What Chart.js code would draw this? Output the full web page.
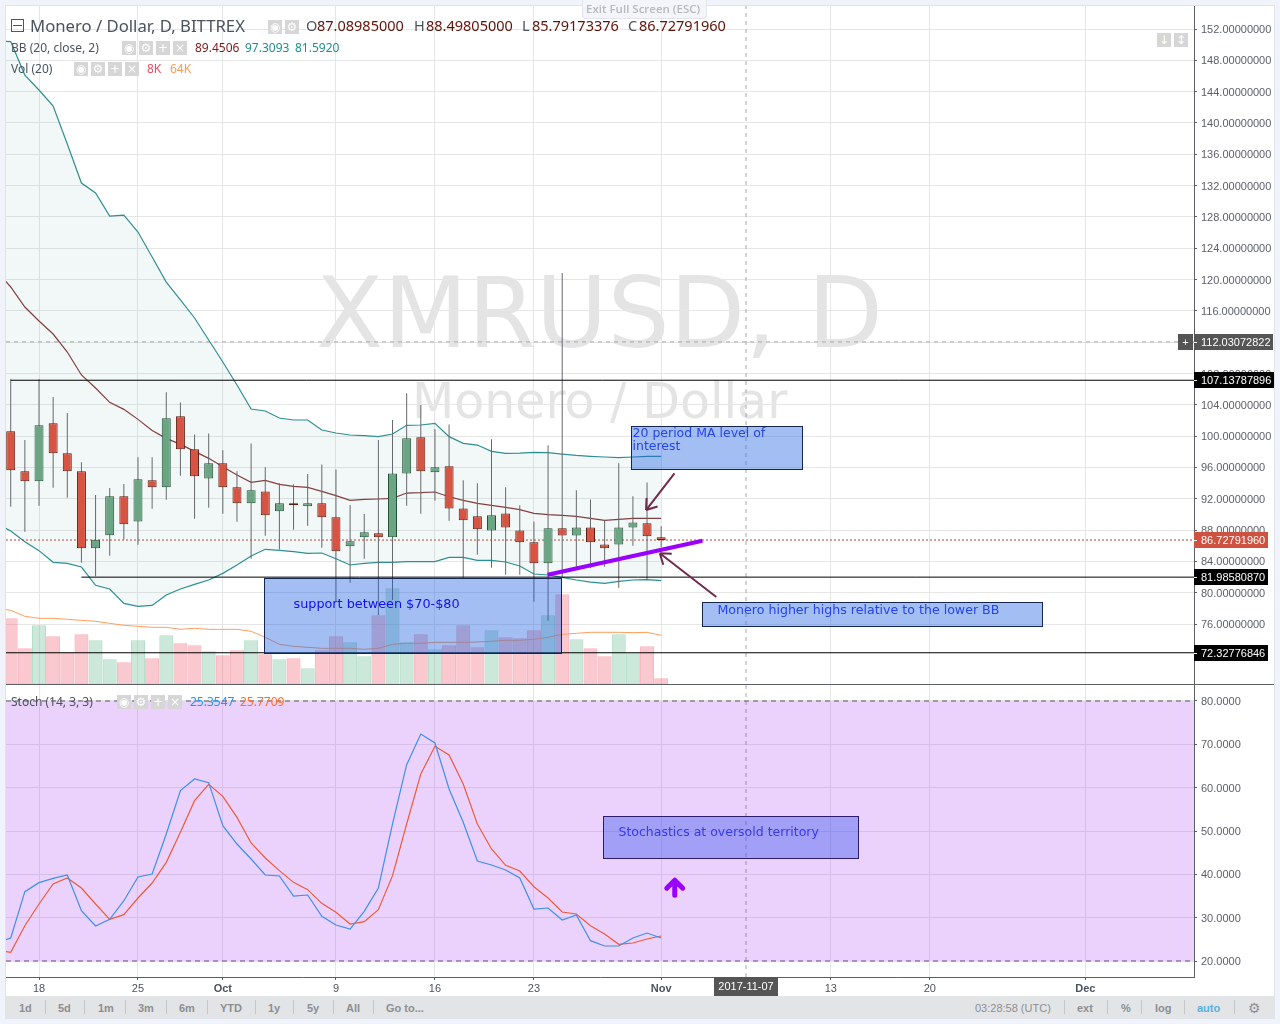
<!DOCTYPE html>
<html>
<head>
<meta charset="utf-8">
<title>XMRUSD, D</title>
<script src="https://cdn.jsdelivr.net/npm/chart.js@4"></script>
<style>
  html, body { margin: 0; padding: 0; width: 1280px; height: 1024px; overflow: hidden; background: #f0f3fa; }
  #frame { position: absolute; left: 5px; top: 5px; width: 1268px; height: 1012px; background: #fff; border: 1px solid #e0e3eb; }
  #chart { position: absolute; left: 0; top: 0; }
  #bar { position: absolute; left: 6px; top: 996px; width: 1268px; height: 22px; background: #e3e4e6; }
  .t { position: absolute; white-space: nowrap; line-height: 1; }
  .btn { position: absolute; width: 14px; height: 14px; background: #d6d6d6; color: #fff; font: 12px/14px "DejaVu Sans"; text-align: center; }
  .sep { position: absolute; top: 1000px; width: 1px; height: 14px; background: #c4c5c8; }
</style>
</head>
<body>
<div id="frame"></div>
<div id="bar"></div>
<canvas id="chart" width="1280" height="996"></canvas>
<div id="labels"></div>
<script>
'use strict';

/* XMRUSD daily, Bittrex. Day numbers count from 18 Sep 2017 = 0. */

// ---------------------------------------------------------------- data
const days = [-2,-1,0,1,2,3,4,5,6,7,8,9,10,11,12,13,14,15,16,17,18,19,20,21,22,23,24,25,26,27,28,29,30,31,32,33,34,35,36,37,38,39,40,41,42,43,44];
const lineDays = [-3].concat(days);

const opens = [100.61,95.50,94.22,101.63,97.80,95.50,85.67,87.33,92.31,89.11,94.35,93.46,102.53,98.31,94.60,96.52,93.46,91.41,92.94,90.39,91.41,91.03,91.41,89.63,85.92,87.07,87.58,87.07,95.24,99.84,95.37,96.14,90.77,89.75,87.96,90.13,87.96,86.43,83.75,88.22,87.32,88.34,86.17,86.17,88.34,88.86,87.09];
const highs = [107.25,99.50,107.25,105.00,102.95,96.65,92.48,93.37,93.88,97.29,97.29,105.59,104.31,100.22,100.35,98.18,95.50,99.07,96.01,93.97,93.84,95.16,96.39,95.75,91.20,90.05,99.50,102.06,105.46,103.97,100.87,101.50,94.35,93.97,99.59,93.46,91.16,89.11,98.82,120.83,93.07,91.92,89.24,96.52,92.31,94.09,88.50];
const lows = [90.99,87.79,91.11,93.41,92.14,83.83,82.09,84.73,86.81,86.13,90.73,91.88,94.95,89.45,90.86,90.09,89.07,84.34,87.28,85.53,88.05,88.56,85.75,78.80,81.28,84.34,77.15,79.07,91.11,90.09,91.75,89.20,81.83,84.85,83.20,82.30,82.30,78.85,76.43,82.05,82.98,83.11,83.32,80.64,86.00,81.70,85.79];
const closes = [95.63,94.22,101.38,97.80,95.50,85.67,86.77,92.31,88.73,94.48,93.46,102.27,98.31,94.86,96.52,93.46,91.41,93.07,89.88,91.41,91.16,91.41,89.63,85.28,86.56,87.71,87.07,95.24,99.72,95.50,96.01,90.77,89.24,88.09,89.88,88.34,86.43,83.75,88.22,87.32,88.34,86.43,85.67,88.34,88.98,87.20,86.73];

const volumes = [89.1,48.6,79.65,64.8,43.2,67.5,59.4,33.75,29.7,59.4,35.1,66.15,55.35,52.65,44.55,39.15,45.9,59.4,40.5,33.75,35.1,21.6,45.9,64.8,56.7,37.8,93.15,129.6,56.7,67.5,47.25,52.65,79.65,49.95,72.9,63.45,62.1,72.9,93.15,121.5,60.75,48.6,37.8,67.5,41.85,51.3,8.1];
const volMA = [102.6,99.9,91.8,89.1,89.1,87.75,86.4,85.05,82.35,79.65,78.3,76.95,76.95,74.25,75.6,74.25,74.25,74.25,71.55,63.45,54,51.3,49.95,48.6,48.6,48.6,47.25,48.6,54,55.35,55.35,56.7,56.7,56.7,57.15,58.05,59.4,59.4,60.75,63.45,67.5,68.85,70.2,70.2,70.2,69.75,70.2,66.15];

const bbUpper = [150.47,150.40,146.12,144.21,142.16,137.31,132.33,131.05,128.11,128.24,126.07,122.88,119.68,117.39,115.09,112.28,109.47,106.53,103.46,103.21,102.31,102.06,102.06,100.78,100.40,100.14,100.06,99.93,100.27,101.38,101.42,101.63,99.93,99.08,98.86,98.05,97.80,97.84,97.93,97.88,97.71,97.54,97.42,97.33,97.25,97.33,97.42,97.42];
const bbBasis = [121.09,119.05,116.49,114.70,113.04,110.74,107.81,106.15,104.31,103.42,102.14,100.73,99.71,98.95,98.05,97.16,96.09,95.03,94.09,94.35,93.84,93.58,93.45,92.94,92.39,91.80,91.92,91.97,92.05,92.73,92.77,92.86,92.26,91.80,91.41,91.16,90.90,90.60,90.13,89.96,89.88,89.75,89.50,89.24,89.37,89.50,89.50,89.50];
const bbLower = [88.86,87.88,86.52,85.37,83.88,83.75,83.28,80.94,80.47,78.64,78.26,78.38,79.70,80.47,81.07,81.62,82.47,83.54,84.69,85.54,85.41,85.24,85.03,85.07,84.34,83.54,83.75,83.88,83.88,83.96,83.96,83.96,84.52,84.52,84.13,84.13,83.92,83.41,82.39,82.26,81.96,81.62,81.36,81.19,81.45,81.62,81.66,81.53];

const stochK = [24.15,25.31,36.00,38.08,39.08,39.85,31.62,28.08,29.62,33.92,39.38,40.08,49.31,59.31,62.00,61.15,51.23,47.00,43.54,39.85,39.62,35.00,35.23,30.31,28.31,27.38,31.46,36.85,51.62,65.31,72.38,70.31,59.69,52.00,43.08,42.15,41.00,39.15,32.00,32.23,29.46,30.62,24.69,23.46,23.46,25.31,26.46,25.31];
const stochD = [22.46,22.00,28.15,33.15,37.77,39.15,36.85,33.15,29.62,30.69,34.54,38.00,42.77,49.69,57.00,60.77,58.00,53.15,47.23,43.77,40.85,38.15,36.46,33.31,31.23,28.54,29.08,31.85,39.69,51.62,63.15,69.54,67.54,60.85,51.62,45.85,42.08,40.77,37.15,34.54,31.31,30.85,28.15,26.23,23.85,24.15,25.08,25.77];

const priceTicks = [152,148,144,140,136,132,128,124,120,116,112,108,104,100,96,92,88,84,80,76];
const stochTicks = [80,70,60,50,40,30,20];
const xTickDays = [0,7,13,21,28,35,44,56,63,74];
const xTickLabels = ['18','25','Oct','9','16','23','Nov','13','20','Dec'];
const monthLabels = ['Oct','Nov','Dec'];

const lastPrice = 86.72791960;
const crossPrice = 112.03072822;
const crossDay = 50;
const levelHigh = 107.13787896;
const levelMid = 81.98580870;
const levelLow = 72.32776846;
const stochBand = [80, 20];

// ---------------------------------------------------------------- pane ranges
const X_MIN = -2.334, X_MAX = 81.68;
const PRICE_MIN = 68.21, PRICE_MAX = 154.94;
const STOCH_MIN = 16.31, STOCH_MAX = 83.69;
const VOL_MIN = -395.1, VOL_MAX = 915.7;

const UP = '#6ba583', UP_EDGE = '#225437';
const DOWN = '#d75442', DOWN_EDGE = '#5b1a13';
const GRID = '#e6e6e6', AXIS = '#5d5f66', TICK_TEXT = '#5d606b';

const isUp = (i) => closes[i] >= opens[i];
const pts = (xs, ys) => xs.map((x, i) => ({ x, y: ys[i] }));
const hline = (y, from) => [{ x: from, y }, { x: X_MAX, y }];

function line(label, data, yAxisID, color, order, extra) {
  return Object.assign({ type: 'line', label, data, yAxisID, xAxisID: 'x', borderColor: color, borderWidth: 1,
    pointRadius: 0, tension: 0, fill: false, order }, extra || {});
}

function bar(label, data, yAxisID, thickness, order, extra) {
  return Object.assign({ type: 'bar', label, data, yAxisID, xAxisID: 'x', barThickness: thickness,
    grouped: false, borderSkipped: false, inflateAmount: 0, order }, extra || {});
}

// ---------------------------------------------------------------- drawings (data coordinates)
const boxes = [
  { axis: 'y', x1: 15.91, x2: 36.94, y1: 81.87, y2: 72.33, fill: 'rgba(33,100,225,.42)', edge: '#14264f', color: '#1010ee',
    lines: ['support between $70-$80'], dx: 29, dy: 29, size: 12.8 },
  { axis: 'y', x1: 41.89, x2: 53.93, y1: 101.25, y2: 95.76, fill: 'rgba(33,100,225,.42)', edge: '#14264f', color: '#2645e8',
    lines: ['20 period MA level of', 'interest'], dx: 1, dy: 10, size: 12.5 },
  { axis: 'y', x1: 46.92, x2: 70.90, y1: 78.77, y2: 75.71, fill: 'rgba(33,100,225,.42)', edge: '#14264f', color: '#2645e8',
    lines: ['Monero higher highs relative to the lower BB'], dx: 15, dy: 11, size: 12.6 },
  { axis: 'stoch', x1: 39.91, x2: 57.90, y1: 53.39, y2: 43.70, fill: 'rgba(60,90,235,.42)', edge: '#2d1a6b', color: '#3a3ae8',
    lines: ['Stochastics at oversold territory'], dx: 15, dy: 19, size: 12.5 },
];
const arrows = [
  { from: [44.94, 95.25], to: [42.93, 90.56] },
  { from: [47.90, 79.45], to: [43.90, 85.03] },
];
const upArrow = { x: 44.96, y: 36.8 };

const tags = [
  { value: crossPrice, text: '112.03072822', bg: '#555555', w: 79 },
  { value: levelHigh, text: '107.13787896', bg: '#000000', w: 80 },
  { value: lastPrice, text: '86.72791960', bg: '#cf513f', w: 74 },
  { value: levelMid, text: '81.98580870', bg: '#000000', w: 74 },
  { value: levelLow, text: '72.32776846', bg: '#000000', w: 74 },
];

function drawArrow(ctx, x0, y0, x1, y1) {
  const a = Math.atan2(y0 - y1, x0 - x1);
  ctx.beginPath();
  ctx.moveTo(x0, y0); ctx.lineTo(x1, y1);
  [-0.62, 0.62].forEach((o) => {
    ctx.moveTo(x1 + Math.cos(a + o) * 12, y1 + Math.sin(a + o) * 12);
    ctx.lineTo(x1, y1);
  });
  ctx.stroke();
}

const drawings = {
  id: 'drawings',
  beforeDraw(chart) {
    const ctx = chart.ctx;
    ctx.save();
    ctx.fillStyle = '#e4e4e4';
    ctx.textBaseline = 'alphabetic';
    ctx.textAlign = 'left';
    ctx.font = '98px "DejaVu Sans"';
    ctx.fillText('XMRUSD, D', 316, 347);
    ctx.font = '49px "DejaVu Sans"';
    ctx.fillText('Monero / Dollar', 412, 418);
    ctx.restore();
  },
  afterDatasetsDraw(chart) {
    const { ctx, scales } = chart;
    const x = scales.x;
    ctx.save();
    boxes.forEach((b) => {
      const s = scales[b.axis];
      const l = Math.round(x.getPixelForValue(b.x1)) + 0.5, r = Math.round(x.getPixelForValue(b.x2)) + 0.5;
      const t = Math.round(s.getPixelForValue(b.y1)) + 0.5, m = Math.round(s.getPixelForValue(b.y2)) + 0.5;
      ctx.fillStyle = b.fill;
      ctx.fillRect(l, t, r - l, m - t);
      ctx.strokeStyle = b.edge;
      ctx.lineWidth = 1;
      ctx.strokeRect(l, t, r - l, m - t);
      ctx.fillStyle = b.color;
      ctx.font = `${b.size}px "DejaVu Sans"`;
      ctx.textBaseline = 'alphabetic';
      b.lines.forEach((txt, i) => ctx.fillText(txt, l + b.dx, t + b.dy + i * 13));
    });
    ctx.strokeStyle = '#722a4b';
    ctx.lineWidth = 2;
    arrows.forEach((a) => drawArrow(ctx, x.getPixelForValue(a.from[0]), scales.y.getPixelForValue(a.from[1]),
      x.getPixelForValue(a.to[0]), scales.y.getPixelForValue(a.to[1])));
    const ax = x.getPixelForValue(upArrow.x), ay = scales.stoch.getPixelForValue(upArrow.y);
    ctx.strokeStyle = '#9900ff';
    ctx.lineWidth = 5;
    ctx.lineCap = 'round';
    ctx.lineJoin = 'round';
    ctx.beginPath();
    ctx.moveTo(ax, ay + 7); ctx.lineTo(ax, ay - 8);
    ctx.moveTo(ax - 8, ay); ctx.lineTo(ax, ay - 8); ctx.lineTo(ax + 8, ay);
    ctx.stroke();
    ctx.restore();
  },
  afterDraw(chart) {
    const { ctx, scales } = chart;
    const right = scales.y.left;
    ctx.save();
    // pane separator
    ctx.fillStyle = AXIS;
    ctx.fillRect(6, Math.round(scales.stoch.top) - 1, 1268, 1);
    // price tags
    ctx.font = '11px "Liberation Sans"';
    ctx.textBaseline = 'middle';
    ctx.textAlign = 'left';
    tags.forEach((t) => {
      const y = Math.round(scales.y.getPixelForValue(t.value));
      ctx.fillStyle = t.bg;
      ctx.fillRect(right, y - 8, t.w, 16);
      ctx.fillStyle = '#fff';
      ctx.fillRect(right, y, 3, 1);
      ctx.fillText(t.text, right + 7, y + 1);
    });
    // cross-hair handle
    const cy = Math.round(scales.y.getPixelForValue(crossPrice));
    ctx.fillStyle = '#555555';
    ctx.fillRect(right - 16, cy - 8, 15, 16);
    ctx.fillStyle = '#fff';
    ctx.textAlign = 'center';
    ctx.fillText('+', right - 8.5, cy + 1);
    // date tag
    const dx = Math.round(scales.x.getPixelForValue(crossDay));
    ctx.fillStyle = '#555555';
    ctx.fillRect(dx - 32, scales.x.top, 64, 19);
    ctx.fillStyle = '#fff';
    ctx.fillText('2017-11-07', dx, scales.x.top + 10);
    ctx.restore();
  },
};

// ---------------------------------------------------------------- chart
const datasets = [
  line('Trend', [{ x: 35.97, y: 82.30 }, { x: 46.92, y: 86.64 }], 'y', '#9900ff', 1, { borderWidth: 4 }),
  line('High', hline(levelHigh, -2), 'y', '#000', 1),
  line('Mid', hline(levelMid, 3), 'y', '#000', 1),
  line('Low', hline(levelLow, X_MIN), 'y', '#000', 1),
  line('%K', pts(lineDays, stochK), 'stoch', '#3f8fef', 2, { borderWidth: 1.2 }),
  line('%D', pts(lineDays, stochD), 'stoch', '#ee5b3a', 3, { borderWidth: 1.2 }),
  line('Band top', hline(stochBand[0], X_MIN), 'stoch', '#5a5560', 5, { borderDash: [5, 4], fill: '+1', backgroundColor: 'rgba(152,30,245,.2)' }),
  line('Band bottom', hline(stochBand[1], X_MIN), 'stoch', '#5a5560', 5, { borderDash: [5, 4] }),
  bar('Bodies', days.map((d, i) => ({ x: d, y: [opens[i], closes[i]] })), 'y', 9, 2, {
    backgroundColor: days.map((d, i) => isUp(i) ? UP : DOWN),
    borderColor: days.map((d, i) => isUp(i) ? UP_EDGE : DOWN_EDGE),
    borderWidth: 1,
  }),
  bar('Wicks', days.map((d, i) => ({ x: d, y: [lows[i], highs[i]] })), 'y', 1, 3, { backgroundColor: '#66686c' }),
  line('Last', hline(lastPrice, X_MIN), 'y', '#c4412e', 4, { borderDash: [2, 2] }),
  line('BB upper', pts(lineDays, bbUpper), 'y', '#2f8f92', 6, { borderWidth: 1.2, fill: '+2', backgroundColor: 'rgba(38,130,130,.06)' }),
  line('BB basis', pts(lineDays, bbBasis), 'y', '#8a3b3b', 6, { borderWidth: 1.2 }),
  line('BB lower', pts(lineDays, bbLower), 'y', '#2f8f92', 6, { borderWidth: 1.2 }),
  line('Cross price', hline(crossPrice, X_MIN), 'y', '#a6a6a6', 7, { borderDash: [4, 4] }),
  line('Cross day', [{ x: crossDay, y: VOL_MIN }, { x: crossDay, y: VOL_MAX }], 'vol', '#a6a6a6', 7, { borderDash: [4, 4] }),
  line('Vol MA', pts(lineDays, volMA), 'vol', '#ff9d5c', 8),
  bar('Volume', days.map((d, i) => ({ x: d, y: volumes[i] })), 'vol', 14, 9, {
    backgroundColor: days.map((d, i) => isUp(i) ? 'rgba(107,190,150,.35)' : 'rgba(240,90,110,.33)'),
    borderColor: days.map((d, i) => isUp(i) ? 'rgba(107,190,150,.5)' : 'rgba(240,90,110,.45)'),
    borderWidth: 1,
  }),
];

const noPadding = (s) => { s.paddingTop = 0; s.paddingBottom = 0; s.paddingLeft = 0; s.paddingRight = 0; };

const yAxis = (min, max, ticks, digits, weight) => ({
  type: 'linear', position: 'right', stack: 'panes', stackWeight: weight, min, max,
  afterBuildTicks: (s) => { s.ticks = ticks.map((value) => ({ value })); },
  afterFit: (s) => { s.width = 80; noPadding(s); },
  grid: { color: GRID, tickColor: AXIS, tickLength: 3, drawTicks: true },
  border: { color: AXIS },
  ticks: { color: TICK_TEXT, font: { family: 'Liberation Sans', size: 11 }, padding: 4, labelOffset: 1, callback: (v) => Number(v).toFixed(digits) },
});

new Chart(document.getElementById('chart'), {
  type: 'bar',
  data: { datasets },
  plugins: [drawings],
  options: {
    responsive: false, animation: false, events: [],
    layout: { autoPadding: false, padding: { left: 6, top: 6, right: 6, bottom: 0 } },
    plugins: { legend: { display: false }, tooltip: { enabled: false } },
    scales: {
      x: {
        type: 'linear', position: 'bottom', min: X_MIN, max: X_MAX, offset: false,
        afterBuildTicks: (s) => { s.ticks = xTickDays.map((value) => ({ value })); },
        afterFit: (s) => { s.height = 19; noPadding(s); },
        grid: { color: GRID, tickColor: AXIS, tickLength: 3, offset: false },
        border: { color: AXIS },
        ticks: {
          color: '#4c525e', maxRotation: 0, autoSkip: false, padding: 2,
          font: (c) => ({ family: 'Liberation Sans', size: 11, weight: c.tick && monthLabels.includes(c.tick.label) ? 'bold' : 'normal' }),
          callback: (v) => xTickLabels[xTickDays.indexOf(v)],
        },
      },
      y: yAxis(PRICE_MIN, PRICE_MAX, priceTicks, 8, 679),
      stoch: yAxis(STOCH_MIN, STOCH_MAX, stochTicks, 4, 292),
      vol: { type: 'linear', display: false, position: 'left', min: VOL_MIN, max: VOL_MAX },
    },
  },
});

// ---------------------------------------------------------------- legends and toolbars
const host = document.getElementById('labels');
function text(x, y, str, css) {
  const el = document.createElement('div');
  el.className = 't';
  el.textContent = str;
  el.style.cssText = `left:${x}px;top:${y}px;` + css;
  host.appendChild(el);
}
function buttons(xs, y, glyphs) {
  xs.forEach((x, i) => {
    const el = document.createElement('div');
    el.className = 'btn';
    el.textContent = glyphs[i];
    el.style.cssText = `left:${x}px;top:${y}px;`;
    host.appendChild(el);
  });
}
function sep(x) {
  const el = document.createElement('div');
  el.className = 'sep';
  el.style.left = x + 'px';
  host.appendChild(el);
}

const HEAD = 'font:16.7px "Noto Sans";color:#4c525e;';
const HVAL = 'font:14.5px "Noto Sans";color:#5f1208;';
const HKEY = 'font:14.5px "Noto Sans";color:#4c525e;';
const SUB = 'font:12px "Noto Sans";color:#4c525e;';
const VAL = 'font:12px "Noto Sans";';

const box = document.createElement('div');
box.style.cssText = 'position:absolute;left:11px;top:19px;width:11px;height:11px;border:1px solid #555;background:linear-gradient(#555,#555) center/9px 1px no-repeat;';
host.appendChild(box);
text(30, 14, 'Monero / Dollar, D, BITTREX', HEAD);
buttons([268, 285], 20, ['◉', '⚙']);
text(306, 15, 'O', HKEY);
text(317, 15, '87.08985000', HVAL);
text(414, 15, 'H', HKEY);
text(426, 15, '88.49805000', HVAL);
text(522, 15, 'L', HKEY);
text(532, 15, '85.79173376', HVAL);
text(628, 15, 'C', HKEY);
text(639, 15, '86.72791960', HVAL);

text(11, 39, 'BB (20, close, 2)', SUB);
buttons([122, 139, 156, 173], 41, ['◉', '⚙', '+', '×']);
text(195, 39, '89.4506', VAL + 'color:#7a1b1b;');
text(245, 39, '97.3093', VAL + 'color:#1e8e8e;');
text(295, 39, '81.5920', VAL + 'color:#1e8e8e;');

text(11, 60, 'Vol (20)', SUB);
buttons([74, 91, 108, 125], 62, ['◉', '⚙', '+', '×']);
text(147, 60, '8K', VAL + 'color:#f24b5e;');
text(170, 60, '64K', VAL + 'color:#ff9b50;');

text(11, 693, 'Stoch (14, 3, 3)', SUB);
buttons([117, 134, 151, 168], 695, ['◉', '⚙', '+', '×']);
text(190, 693, '25.3547', VAL + 'color:#2196f3;');
text(240, 693, '25.7709', VAL + 'color:#ff6d2a;');

buttons([1157, 1174], 33, ['↓', '↕']);

const tab = document.createElement('div');
tab.style.cssText = 'position:absolute;left:582px;top:-1px;width:123px;height:18px;background:#f3f5fa;border:1px solid #e3e5ea;border-radius:0 0 3px 3px;';
host.appendChild(tab);
text(586, 1, 'Exit Full Screen (ESC)', 'font:600 11.5px "Open Sans";color:#b9b9b9;');

const BAR = 'font:bold 11px "Liberation Sans";color:#8d8e92;';
const ranges = ['1d', '5d', '1m', '3m', '6m', 'YTD', '1y', '5y', 'All', 'Go to...'];
const rangeX = [19, 58, 98, 138, 179, 220, 268, 307, 346, 386];
ranges.forEach((r, i) => text(rangeX[i], 1002, r, BAR));
[45, 84, 125, 166, 207, 255, 293, 333, 373].forEach(sep);
text(975, 1002, '03:28:58 (UTC)', 'font:11px "Liberation Sans";color:#8d8e92;');
text(1077, 1002, 'ext', BAR);
text(1121, 1002, '%', BAR);
text(1155, 1002, 'log', BAR);
text(1197, 1002, 'auto', 'font:bold 11px "Liberation Sans";color:#53b1e0;');
text(1248, 1000, '⚙', 'font:14px "DejaVu Sans";color:#8d8e92;');
[1064, 1107, 1141, 1184, 1234].forEach(sep);
</script>
</body>
</html>
